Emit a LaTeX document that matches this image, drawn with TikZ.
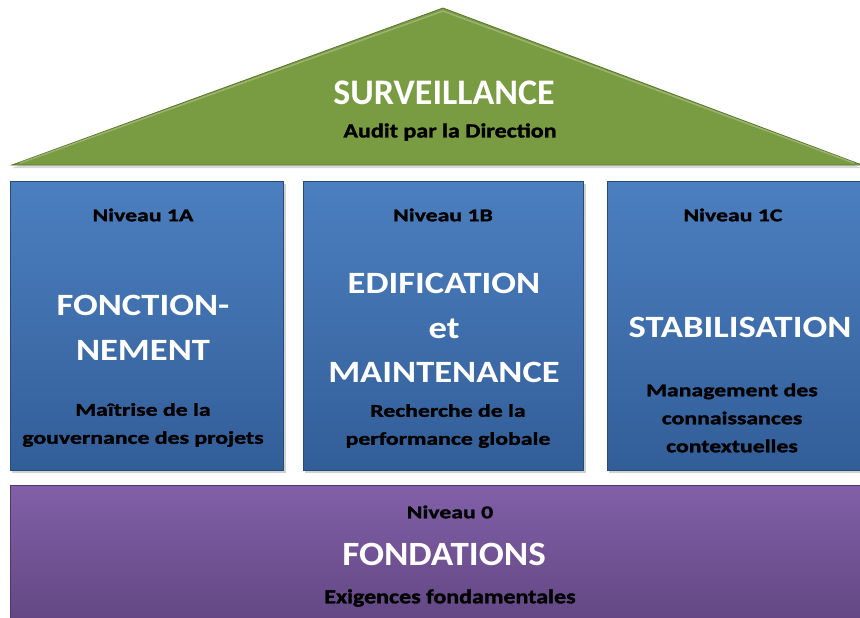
\documentclass[tikz,border=0pt]{standalone}
\usepackage{fontspec}
\setmainfont{Carlito}
\newfontfamily\wideW[FakeStretch=1.18]{Carlito}
\newfontfamily\wideF[FakeStretch=1.09]{Carlito}
\newfontfamily\wideB[FakeStretch=1.32,FakeBold=1.6]{Carlito}
\newfontfamily\wideR[FakeStretch=1.2,FakeBold=1.6]{Carlito}
\usetikzlibrary{calc}
\definecolor{roofgreen}{RGB}{121,155,65}
\definecolor{roofedge}{RGB}{92,120,48}
\definecolor{bluetop}{RGB}{76,127,192}
\definecolor{bluebot}{RGB}{50,94,152}
\definecolor{blueedge}{RGB}{40,74,120}
\definecolor{purtop}{RGB}{129,96,168}
\definecolor{purbot}{RGB}{98,70,130}
\definecolor{puredge}{RGB}{80,56,108}
\begin{document}
\begin{tikzpicture}[x=1pt,y=-1pt,
  pillar/.style={rectangle, minimum width=#1, minimum height=289pt, inner sep=0pt,
    top color=bluetop, bottom color=bluebot, draw=blueedge, line width=0.6pt},
  basebox/.style={rectangle, minimum width=850pt, minimum height=140pt, inner sep=0pt,
    top color=purtop, bottom color=purbot, draw=puredge, line width=0.6pt},
  shade/.style={fill=black, opacity=0.18},
  lbl/.style={font=\wideB\bfseries\fontsize{18}{28}\selectfont, text=black, align=center, inner sep=0pt},
  lblr/.style={font=\wideR\bfseries\fontsize{20}{24}\selectfont, text=black, align=center, inner sep=0pt},
  big/.style={font=\wideW\bfseries\fontsize{31}{44.5}\selectfont, text=white, align=center, inner sep=0pt},
  huge/.style={font=\bfseries\fontsize{36}{40}\selectfont, text=white, align=center, inner sep=0pt}]
\useasboundingbox (0,0) rectangle (860,618);
\fill[white] (0,0) rectangle (860,618);
% roof
\coordinate (apex) at (443,8);
\coordinate (rl) at (12,165);
\coordinate (rr) at (862,165);
\fill[black, opacity=0.15] ($(apex)+(0,3)$) -- ($(rr)+(0,3)$) -- ($(rl)+(0,3)$) -- cycle;
\path[fill=roofgreen, draw=roofedge, line width=0.8pt] (apex) -- (rr) -- (rl) -- cycle;
\draw[white, opacity=0.25, line width=1.5pt] ($(rl)+(8,-2)$) -- ($(apex)+(0,3)$) -- ($(rr)+(-8,-2)$);
\node[huge] (surv) at (444,93) {SURVEILLANCE};
\node[lblr] (audit) at (450,132) {Audit par la Direction};
% shadows
\fill[shade] (12,184) rectangle (286,473);
\fill[shade] (305,184) rectangle (586,473);
\fill[shade] (609,184) rectangle (862,473);
\fill[shade] (12,488) rectangle (862,620);
% pillars
\node[pillar=273pt] (boxA) at (146.5,325.5) {};
\node[pillar=280pt] (boxB) at (443,325.5) {};
\node[pillar=256pt] (boxC) at (735,325.5) {};
\node[basebox] (base) at (435,555) {};
% pillar A text
\node[lbl] (nA) at (143,215) {Niveau 1A};
\node[big] (tA) at (143,328) {FONCTION-\\NEMENT};
\node[lbl] (dA) at (143,425) {Maîtrise de la\\gouvernance des projets};
% pillar B text
\node[lbl] (nB) at (443,215) {Niveau 1B};
\node[big] (tB) at (444,328) {EDIFICATION\\et\\MAINTENANCE};
\node[lbl] (dB) at (448,426) {Recherche de la\\performance globale};
% pillar C text
\node[lbl] (nC) at (733,215) {Niveau 1C};
\node[big] (tC) at (740,327) {STABILISATION};
\node[lbl] (dC) at (732,418) {Management des\\connaissances\\contextuelles};
% base text
\node[lbl] (n0) at (450,512) {Niveau 0};
\node[huge, font=\wideF\bfseries\fontsize{34}{40}\selectfont] (t0) at (444,554) {FONDATIONS};
\node[lblr] (d0) at (450,598) {Exigences fondamentales};
\end{tikzpicture}
\end{document}
